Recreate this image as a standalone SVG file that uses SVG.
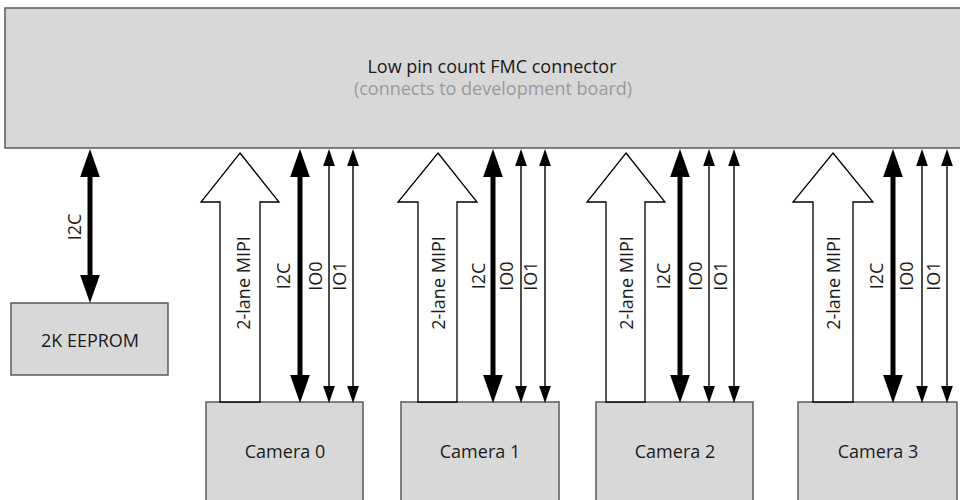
<svg xmlns="http://www.w3.org/2000/svg" width="960" height="500" viewBox="0 0 960 500">
<defs>
<marker id="thick" markerUnits="userSpaceOnUse" markerWidth="28" markerHeight="20" viewBox="0 0 27 19" refX="0" refY="9.5" orient="auto-start-reverse"><path d="M0,0 L27,9.5 L0,19 Z" fill="#000"/></marker>
<marker id="thin" markerUnits="userSpaceOnUse" markerWidth="17" markerHeight="12" viewBox="0 0 16 11" refX="0" refY="5.5" orient="auto-start-reverse"><path d="M0,0 L16,5.5 L0,11 Z" fill="#000"/></marker>
</defs>
<style>
.box{fill:#d8d8d8;stroke:#5a5a5a;stroke-width:1.5}
.t{font-family:"Open Sans","DejaVu Sans",sans-serif;font-size:18px;fill:#1a1a1a;text-anchor:middle}
.g{fill:#9a9a9a}
.thick{stroke:#000;stroke-width:5;marker-start:url(#thick);marker-end:url(#thick)}
.thin{stroke:#111;stroke-width:1.5;marker-start:url(#thin);marker-end:url(#thin)}
.mipi{fill:#fff;stroke:#000;stroke-width:1.3;stroke-linejoin:miter}
</style>
<rect width="960" height="500" fill="#fff"/>
<g id="fmc">
<rect class="box" x="5" y="8" width="970" height="140"/>
<text class="t" x="492" y="73">Low pin count FMC connector</text>
<text class="t g" x="493" y="95">(connects to development board)</text>
</g>
<g id="eeprom">
<rect class="box" x="11" y="303" width="157" height="72"/>
<text class="t" x="90" y="347">2K EEPROM</text>
</g>
<g id="camera0">
<rect class="box" x="206" y="402" width="157" height="120"/>
<text class="t" x="285" y="458">Camera 0</text>
</g>
<g id="camera1">
<rect class="box" x="401" y="402" width="158" height="120"/>
<text class="t" x="480" y="458">Camera 1</text>
</g>
<g id="camera2">
<rect class="box" x="596" y="402" width="157" height="120"/>
<text class="t" x="675" y="458">Camera 2</text>
</g>
<g id="camera3">
<rect class="box" x="798" y="402" width="159" height="120"/>
<text class="t" x="878" y="458">Camera 3</text>
</g>
<g id="connectors">
<line class="thick" x1="90" y1="177" x2="90" y2="275"/>
<text class="t" transform="translate(81,227) rotate(-90)">I2C</text>

<polygon class="mipi" points="240,153 279,202 260,202 260,402 220,402 220,202 201,202"/>
<text class="t" transform="translate(250,283) rotate(-90)">2-lane MIPI</text>
<line class="thick" x1="300" y1="177" x2="300" y2="375"/>
<text class="t" transform="translate(290,276) rotate(-90)">I2C</text>
<line class="thin" x1="329" y1="166" x2="329" y2="386"/>
<text class="t" transform="translate(322,276) rotate(-90)">IO0</text>
<line class="thin" x1="353" y1="166" x2="353" y2="386"/>
<text class="t" transform="translate(346,276) rotate(-90)">IO1</text>

<polygon class="mipi" points="438,153 477,202 457,202 457,402 418,402 418,202 398,202"/>
<text class="t" transform="translate(445,283) rotate(-90)">2-lane MIPI</text>
<line class="thick" x1="493" y1="177" x2="493" y2="375"/>
<text class="t" transform="translate(485,276) rotate(-90)">I2C</text>
<line class="thin" x1="521" y1="166" x2="521" y2="386"/>
<text class="t" transform="translate(513,276) rotate(-90)">IO0</text>
<line class="thin" x1="545" y1="166" x2="545" y2="386"/>
<text class="t" transform="translate(537,276) rotate(-90)">IO1</text>

<polygon class="mipi" points="626,153 665,202 645,202 645,402 606,402 606,202 587,202"/>
<text class="t" transform="translate(633,283) rotate(-90)">2-lane MIPI</text>
<line class="thick" x1="680" y1="177" x2="680" y2="375"/>
<text class="t" transform="translate(670,276) rotate(-90)">I2C</text>
<line class="thin" x1="709" y1="166" x2="709" y2="386"/>
<text class="t" transform="translate(702,276) rotate(-90)">IO0</text>
<line class="thin" x1="734" y1="166" x2="734" y2="386"/>
<text class="t" transform="translate(727,276) rotate(-90)">IO1</text>

<polygon class="mipi" points="833,153 873,202 853,202 853,402 813,402 813,202 793,202"/>
<text class="t" transform="translate(840,283) rotate(-90)">2-lane MIPI</text>
<line class="thick" x1="893" y1="177" x2="893" y2="375"/>
<text class="t" transform="translate(883,276) rotate(-90)">I2C</text>
<line class="thin" x1="922" y1="166" x2="922" y2="386"/>
<text class="t" transform="translate(913,276) rotate(-90)">IO0</text>
<line class="thin" x1="947" y1="166" x2="947" y2="386"/>
<text class="t" transform="translate(940,276) rotate(-90)">IO1</text>
</g>
</svg>
